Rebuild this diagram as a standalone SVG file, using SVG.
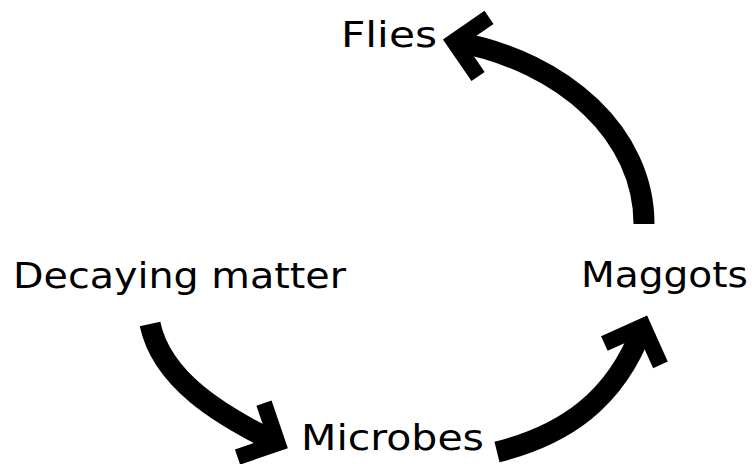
<svg xmlns="http://www.w3.org/2000/svg" width="752" height="464" viewBox="0 0 752 464">
<style>
.lbl{font-family:"Comic Sans MS","DejaVu Sans",sans-serif;font-size:36px;fill:#000}
.arc{fill:none;stroke:#000;stroke-width:21;stroke-linecap:butt}
</style>
<defs>
<marker id="chev" markerUnits="userSpaceOnUse" orient="auto" refX="0" refY="0" markerWidth="80" markerHeight="80" overflow="visible">
<path d="M-27,-30 L3,0 L-27,30" fill="none" stroke="#000" stroke-width="16" stroke-linejoin="miter" stroke-miterlimit="10"/>
</marker>
</defs>
<rect width="752" height="464" fill="#fff"/>
<g id="connectors">
<path class="arc" d="M644,224 C644,135 565,62 457,42" marker-end="url(#chev)"/>
<path class="arc" d="M150,324 C162,380 220,415 275,442" marker-end="url(#chev)"/>
<path class="arc" d="M497,452 C565,435 615,400 642,329" marker-end="url(#chev)"/>
</g>
<g id="flies"><text class="lbl" x="341" y="47" textLength="96" lengthAdjust="spacingAndGlyphs">Flies</text></g>
<g id="decaying"><text class="lbl" x="13" y="288" textLength="333" lengthAdjust="spacingAndGlyphs">Decaying matter</text></g>
<g id="maggots"><text class="lbl" x="581" y="287" textLength="167" lengthAdjust="spacingAndGlyphs">Maggots</text></g>
<g id="microbes"><text class="lbl" x="301" y="450" textLength="183" lengthAdjust="spacingAndGlyphs">Microbes</text></g>
</svg>
